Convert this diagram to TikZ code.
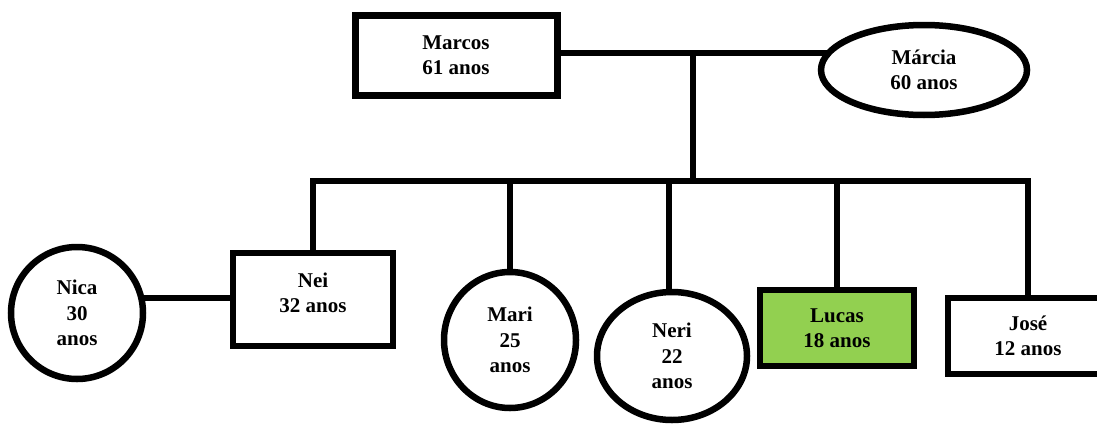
\documentclass[tikz,border=0pt]{standalone}
\usepackage{fontspec}
\setmainfont{Liberation Serif}
\usetikzlibrary{shapes.geometric,backgrounds,calc}
\definecolor{lucasgreen}{HTML}{92D050}
\begin{document}
\begin{tikzpicture}[x=1pt,y=-1pt,
  txt/.style={align=center,inner sep=0pt,font=\fontsize{21}{25.5}\selectfont\bfseries},
  person/.style={txt,draw=black,line width=6.5pt,fill=white},
  male/.style={person,rectangle},
  female/.style={person,ellipse},
  link/.style={draw=black,line width=6.5pt,line join=miter}]
\useasboundingbox (0,0) rectangle (1097,423);
\begin{scope}
\clip (0,0) rectangle (1097,423);
\node[male,line width=7pt,minimum width=202pt,minimum height=80pt] (Marcos) at (456,55) {Marcos\\61 anos};
\node[female,minimum width=206pt,minimum height=90pt] (Marcia) at (924,70) {Márcia\\60 anos};
\node[female,minimum width=132pt,minimum height=132pt] (Nica) at (77,313) {Nica\\30\\anos};
\node[male,minimum width=160pt,minimum height=93pt] (Nei) at (313,299.5) {};
\node[txt] (NeiText) at (313,293) {Nei\\32 anos};
\node[female,minimum width=132pt,minimum height=136pt] (Mari) at (510,340) {Mari\\25\\anos};
\node[female,minimum width=150pt,minimum height=128pt] (Neri) at (672,356) {Neri\\22\\anos};
\node[male,fill=lucasgreen,minimum width=154pt,minimum height=76pt] (Lucas) at (837,328) {Lucas\\18 anos};
\node[male,minimum width=160pt,minimum height=76pt] (Jose) at (1028,336) {José\\12 anos};
\coordinate (cpl) at (693,53);
\coordinate (bar) at (693,181);
\begin{scope}[on background layer]
  \draw[link] (Marcos.center |- cpl) -- (Marcia.center |- cpl);
  \draw[link] (cpl) -- (bar);
  \draw[link] (Nei.north) |- (Jose.north |- bar) -- (Jose.north);
  \draw[link] (Mari.center |- bar) -- (Mari.north);
  \draw[link] (669,181) -- (669,300);
  \draw[link] (Lucas.north |- bar) -- (Lucas.north);
  \draw[link] (Nica.center |- 0,298) -- (Nei.center |- 0,298);
\end{scope}
\end{scope}
\end{tikzpicture}
\end{document}
